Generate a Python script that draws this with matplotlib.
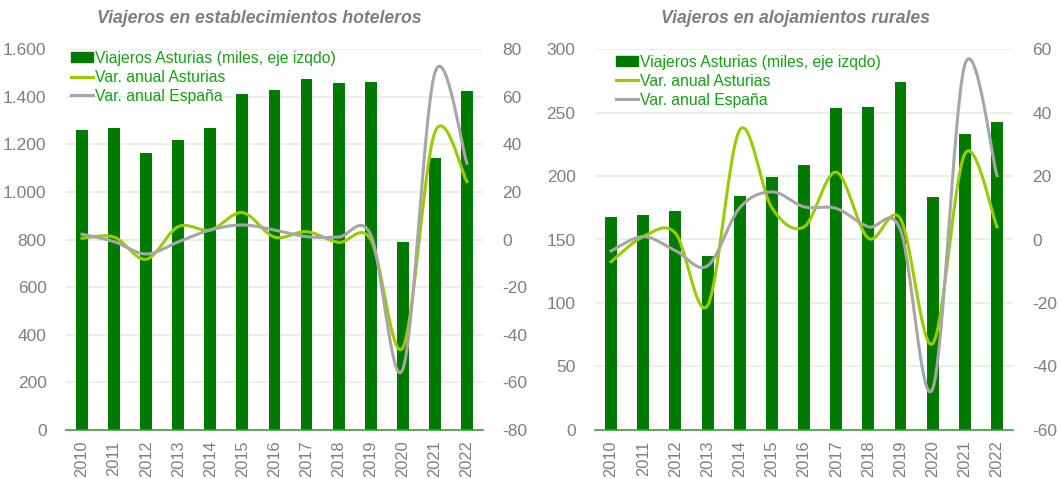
import matplotlib
matplotlib.use('Agg')
import matplotlib.pyplot as plt
import numpy as np
from matplotlib.lines import Line2D
from matplotlib.patches import Patch
from matplotlib.ticker import FuncFormatter

plt.rcParams['font.family'] = ['Liberation Sans', 'DejaVu Sans']
plt.rcParams['axes.unicode_minus'] = False

years = [str(y) for y in range(2010, 2023)]

# hoteles: viajeros (miles) y variacion anual (%)
hotel_viajeros = [1258, 1268, 1162, 1219, 1270, 1411, 1428, 1474, 1458, 1461, 790, 1142, 1424]
hotel_var_asturias = [0.5, 1.0, -8.3, 5.4, 4.0, 11.3, 1.0, 3.3, -1.2, 0.0, -45.5, 45.0, 24.3]
hotel_var_espana = [2.2, -0.9, -6.1, -1.0, 4.0, 6.1, 4.0, 1.2, 1.0, 2.0, -54.5, 70.0, 32.0]

# alojamientos rurales
rural_viajeros = [167.5, 169, 172.4, 137, 184, 199, 209, 253.5, 254.3, 274, 183.5, 232.8, 242.5]
rural_var_asturias = [-7.0, 0.9, 2.0, -20.8, 34.5, 10.0, 4.0, 21.2, 0.4, 6.5, -32.8, 27.0, 4.0]
rural_var_espana = [-3.6, 0.9, -3.5, -8.3, 10.0, 15.0, 10.3, 9.8, 4.0, 3.0, -47.0, 55.0, 20.1]

BAR = '#007A00'
LIGHT = '#99CC00'
GREY = '#A6A6A6'
TXT = '#7F7F7F'
LEG = '#16A016'
GRID = '#E4F0DF'


def smooth(y, n=30):
    # Excel-like smoothed line (bezier through the points)
    x = np.arange(len(y), dtype=float)
    y = np.asarray(y, dtype=float)
    px, py = [], []
    for i in range(len(y) - 1):
        i0, i3 = max(i - 1, 0), min(i + 2, len(y) - 1)
        c1x, c1y = x[i] + (x[i + 1] - x[i0]) / 6, y[i] + (y[i + 1] - y[i0]) / 6
        c2x, c2y = x[i + 1] - (x[i3] - x[i]) / 6, y[i + 1] - (y[i3] - y[i]) / 6
        t = np.linspace(0, 1, n)
        a, b, c, d = (1 - t) ** 3, 3 * (1 - t) ** 2 * t, 3 * (1 - t) * t ** 2, t ** 3
        px.append(a * x[i] + b * c1x + c * c2x + d * x[i + 1])
        py.append(a * y[i] + b * c1y + c * c2y + d * y[i + 1])
    return np.concatenate(px), np.concatenate(py)


def panel(rect, title, title_x, bars, var_ast, var_esp, ylim, yticks, y2lim, y2ticks, leg_anchor, fmt):
    ax = fig.add_axes(rect)
    x = np.arange(len(years))
    ax.bar(x, bars, width=0.37, color=BAR, zorder=2)
    ax.set_xlim(-0.5, len(years) - 0.5)
    ax.set_ylim(*ylim)
    ax.set_yticks(yticks)
    ax.yaxis.set_major_formatter(FuncFormatter(fmt))
    ax.set_xticks(x)
    ax.set_xticklabels(years, rotation=90)
    ax.grid(axis='y', color=GRID, linewidth=1.2, zorder=0)
    ax.set_axisbelow(True)
    for s in ['top', 'right', 'left']:
        ax.spines[s].set_visible(False)
    ax.spines['bottom'].set_color('#3DA03D')
    ax.spines['bottom'].set_linewidth(1.2)
    ax.tick_params(axis='both', length=0, colors=TXT)
    ax.tick_params(axis='y', pad=14, labelsize=12.5)
    ax.tick_params(axis='x', pad=7.5, labelsize=11.8)

    ax2 = ax.twinx()
    sx, sy = smooth(var_ast)
    ax2.plot(sx, sy, color=LIGHT, linewidth=2.2, zorder=3)
    sx, sy = smooth(var_esp)
    ax2.plot(sx, sy, color=GREY, linewidth=2.2, zorder=4)
    ax2.set_ylim(*y2lim)
    ax2.set_yticks(y2ticks)
    for s in ['top', 'right', 'left', 'bottom']:
        ax2.spines[s].set_visible(False)
    ax2.tick_params(axis='y', length=0, labelsize=12.5, colors=TXT, pad=14)

    handles = [Patch(color=BAR),
               Line2D([], [], color=LIGHT, linewidth=2.2),
               Line2D([], [], color=GREY, linewidth=2.2)]
    labels = ['Viajeros Asturias (miles, eje izqdo)', 'Var. anual Asturias', 'Var. anual España']
    ax2.legend(handles, labels, loc='upper left', bbox_to_anchor=leg_anchor,
               frameon=False, fontsize=11.3, labelcolor=LEG, handlelength=1.4,
               handleheight=0.6, handletextpad=0.15, labelspacing=0.25,
               borderpad=0, borderaxespad=0)

    fig.text(title_x, 0.962, title, ha='center', va='center', fontsize=12.7,
             fontweight='bold', fontstyle='italic', color=TXT)


fig = plt.figure(figsize=(10.61, 4.79), dpi=100)

panel([0.0622, 0.1023, 0.393, 0.7954], 'Viajeros en establecimientos hoteleros', 0.244,
      hotel_viajeros, hotel_var_asturias, hotel_var_espana,
      (0, 1600), range(0, 1601, 200), (-80, 80), range(-80, 81, 20), (0.011, 0.995),
      lambda v, p: f'{int(v):,}'.replace(',', '.'))

panel([0.5608, 0.1023, 0.394, 0.7954], 'Viajeros en alojamientos rurales', 0.750,
      rural_viajeros, rural_var_asturias, rural_var_espana,
      (0, 300), range(0, 301, 50), (-60, 60), range(-60, 61, 20), (0.05, 0.985),
      lambda v, p: f'{int(v)}')

fig.savefig('out.png', dpi=100)
